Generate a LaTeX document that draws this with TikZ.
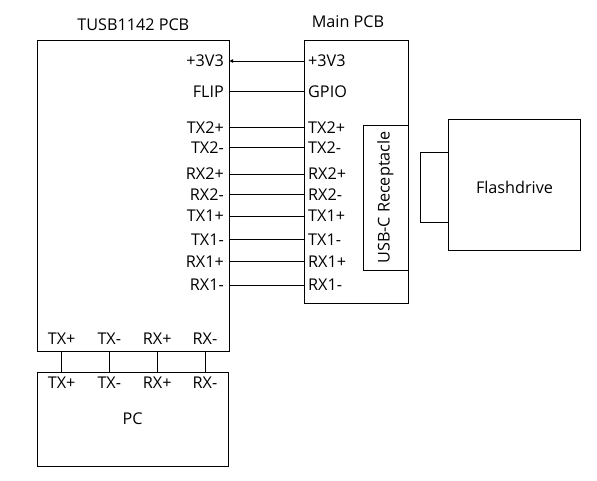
\documentclass[tikz,border=0pt]{standalone}
\usepackage{fontspec}
\setmainfont{Open Sans}
\usetikzlibrary{arrows.meta}
\begin{document}
\begin{tikzpicture}[x=1pt,y=-1pt,
  font=\fontsize{16.2}{20}\selectfont,
  box/.style={draw, line width=0.8pt, inner sep=0pt, outer sep=0pt, anchor=north west},
  lbl/.style={inner sep=0pt, text height=11.6pt, text depth=0pt},
  wire/.style={line width=0.8pt}]
\useasboundingbox (0,0) rectangle (597,480);
% titles
\node[lbl] (t1title) at (133.3,25) {TUSB1142 PCB};
\node[lbl] (t2title) at (348,21.5) {Main PCB};
% boxes
\node[box, minimum width=192pt, minimum height=311pt] (tusb) at (37,40) {};
\node[box, minimum width=104pt, minimum height=263pt] (main) at (304,40) {};
\node[box, minimum width=191pt, minimum height=94pt] (pc) at (37,372) {};
\node[lbl] (pctxt) at (pc.center) {PC};
\node[draw, line width=0.8pt, inner sep=0pt, outer sep=0pt, rotate=90,
  minimum width=145pt, minimum height=45pt] (usb) at (385.5,197.5) {USB-C Receptacle};
\node[box, minimum width=132pt, minimum height=131pt] (flash) at (448,119) {};
\node[lbl] (flashtxt) at (514.5,188) {Flashdrive};
\node[box, minimum width=28pt, minimum height=70pt] (stub) at (420,152) {};
% rows
\foreach \i/\a/\b/\y in {1/+3V3/+3V3/61, 2/FLIP/GPIO/91.5, 3/TX2+/TX2+/127.3, 4/TX2-/TX2-/147.3,
  5/RX2+/RX2+/174, 6/RX2-/RX2-/194.3, 7/TX1+/TX1+/216, 8/TX1-/TX1-/239.3,
  9/RX1+/RX1+/261.7, 10/RX1-/RX1-/285} {
  \node[lbl, anchor=east] (l\i) at (224,\y) {\a};
  \node[lbl, anchor=west] (r\i) at (308,\y) {\b};
}
\draw[wire, -{Latex[length=4pt,width=4pt]}] (main.west |- r1) -- (tusb.east |- r1);
\foreach \i in {2,...,10} {
  \draw[wire] (tusb.east |- r\i) -- (main.west |- r\i);
}
% bottom connections
\foreach \i/\t/\x in {1/TX+/61.7, 2/TX-/109.3, 3/RX+/157.3, 4/RX-/205} {
  \node[lbl] (b\i) at (\x,339) {\t};
  \node[lbl] (p\i) at (\x,383) {\t};
  \draw[wire] (tusb.south -| b\i) -- (pc.north -| b\i);
}
\end{tikzpicture}
\end{document}
